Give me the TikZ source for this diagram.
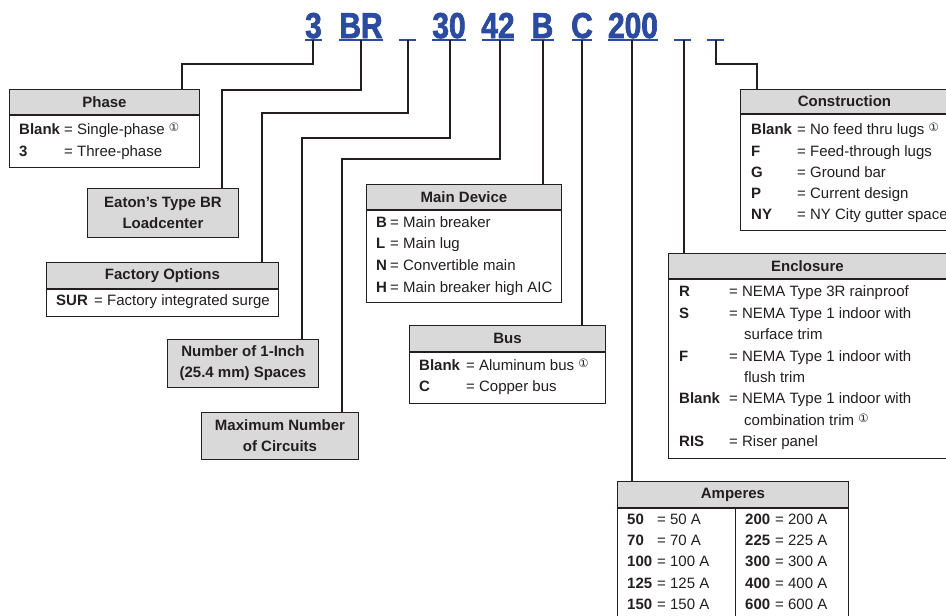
\documentclass[tikz,border=0pt]{standalone}
\usepackage{fontspec}
\setmainfont{Liberation Sans}
\newfontfamily\codefont[FakeStretch=0.83,FakeBold=2]{Liberation Sans Bold}
\newfontfamily\circfont{DejaVu Sans}
\newcommand\myone{{\circfont\fontsize{11.5}{11.5}\selectfont\raisebox{2.5pt}{①}}}
\definecolor{codeblue}{HTML}{2A4B9E}
\definecolor{hdrgray}{HTML}{D9D9DA}
\definecolor{ink}{HTML}{231F20}
\tikzset{
  codetxt/.style={anchor=base, inner sep=0pt, text=codeblue, font=\codefont\fontsize{36}{36}\selectfont},
  uline/.style={draw=codeblue, line width=1.6pt},
  conn/.style={draw=ink, line width=1.8pt},
  hdr/.style={draw=ink, line width=0.9pt, fill=hdrgray, anchor=north west, inner sep=0pt, text=ink, font=\bfseries\fontsize{15}{21}\selectfont, align=center},
  bodybox/.style={draw=ink, line width=0.9pt, fill=white, anchor=north west, inner sep=0pt},
  key/.style={anchor=base west, inner sep=0pt, text=ink, font=\bfseries\fontsize{15}{18}\selectfont},
  val/.style={anchor=base west, inner sep=0pt, text=ink, font=\fontsize{15}{18}\selectfont},
}
\begin{document}
\begin{tikzpicture}[x=1pt, y=-1pt]
\useasboundingbox (0,0) rectangle (946,616);
% ---------- code line ----------
\node[codetxt] (c1) at (313.5,38) {3};
\node[codetxt] (c2) at (361,38) {BR};
\node[codetxt] (c4) at (449,38) {30};
\node[codetxt] (c5) at (498,38) {42};
\node[codetxt] (c6) at (542.5,38) {B};
\node[codetxt] (c7) at (582,38) {C};
\node[codetxt] (c8) at (633,38) {200};
\coordinate (u1) at (313,40);
\coordinate (u2) at (361,40);
\coordinate (u3) at (408,40);
\coordinate (u4) at (450,40);
\coordinate (u5) at (500,40);
\coordinate (u6) at (543,40);
\coordinate (u7) at (582,40);
\coordinate (u8) at (632,40);
\coordinate (u9) at (684,40);
\coordinate (u10) at (716,40);
\draw[uline] (305,40) -- (322,40);
\draw[uline] (339,40) -- (383,40);
\draw[uline] (399,40) -- (416,40);
\draw[uline] (432,40) -- (466,40);
\draw[uline] (482,40) -- (514,40);
\draw[uline] (531,40) -- (554,40);
\draw[uline] (572,40) -- (592,40);
\draw[uline] (608,40) -- (658,40);
\draw[uline] (674,40) -- (691,40);
\draw[uline] (707,40) -- (724,40);

% ---------- Phase ----------
\node[hdr, minimum width=190, minimum height=25] (phH) at (9,89) {Phase};
\node[bodybox, minimum width=190, minimum height=52] (phB) at (phH.south west) {};
\node[key] (phK1) at (19,134) {Blank};
\node[val] (phV1) at (64,134) {= Single-phase \myone};
\node[key] (phK2) at (19,156) {3};
\node[val] (phV2) at (64,156) {= Three-phase};

% ---------- Eaton ----------
\node[hdr, minimum width=151, minimum height=49] (eat) at (87,188) {Eaton’s Type BR\\Loadcenter};

% ---------- Factory options ----------
\node[hdr, minimum width=232, minimum height=26] (foH) at (46,262) {Factory Options};
\node[bodybox, minimum width=232, minimum height=27] (foB) at (foH.south west) {};
\node[key] (foK) at (56,305) {SUR};
\node[val] (foV) at (94,305) {= Factory integrated surge};

% ---------- Number of spaces ----------
\node[hdr, minimum width=151, minimum height=48] (nsp) at (167,339) {Number of 1-Inch\\(25.4 mm) Spaces};

% ---------- Maximum circuits ----------
\node[hdr, minimum width=157, minimum height=47] (mxc) at (201,412) {Maximum Number\\of Circuits};

% ---------- Main device ----------
\node[hdr, minimum width=195, minimum height=25] (mdH) at (366,184) {Main Device};
\node[bodybox, minimum width=195, minimum height=92] (mdB) at (mdH.south west) {};
\node[key] (mdK1) at (376,227) {B};
\node[val] (mdV1) at (390,227) {= Main breaker};
\node[key] (mdK2) at (376,248) {L};
\node[val] (mdV2) at (390,248) {= Main lug};
\node[key] (mdK3) at (376,270) {N};
\node[val] (mdV3) at (390,270) {= Convertible main};
\node[key] (mdK4) at (376,292) {H};
\node[val] (mdV4) at (390,292) {= Main breaker high AIC};

% ---------- Bus ----------
\node[hdr, minimum width=196, minimum height=26] (buH) at (409,325) {Bus};
\node[bodybox, minimum width=196, minimum height=51] (buB) at (buH.south west) {};
\node[key] (buK1) at (419,370) {Blank};
\node[val] (buV1) at (466,370) {= Aluminum bus \myone};
\node[key] (buK2) at (419,391) {C};
\node[val] (buV2) at (466,391) {= Copper bus};

% ---------- Construction ----------
\node[hdr, minimum width=220, minimum height=24] (coH) at (740,89) {\hspace*{-12pt}Construction};
\node[bodybox, minimum width=220, minimum height=116] (coB) at (coH.south west) {};
\node[key] (coK1) at (751,134) {Blank};
\node[val] (coV1) at (797,134) {= No feed thru lugs \myone};
\node[key] (coK2) at (751,156) {F};
\node[val] (coV2) at (797,156) {= Feed-through lugs};
\node[key] (coK3) at (751,177) {G};
\node[val] (coV3) at (797,177) {= Ground bar};
\node[key] (coK4) at (751,198) {P};
\node[val] (coV4) at (797,198) {= Current design};
\node[key] (coK5) at (751,219) {NY};
\node[val] (coV5) at (797,219) {= NY City gutter space};

% ---------- Enclosure ----------
\node[hdr, minimum width=290, minimum height=25] (enH) at (668,253) {\hspace*{-12pt}Enclosure};
\node[bodybox, minimum width=290, minimum height=179] (enB) at (enH.south west) {};
\node[key] (enK1) at (679,296) {R};
\node[val] (enV1) at (729,296) {= NEMA Type 3R rainproof};
\node[key] (enK2) at (679,318) {S};
\node[val] (enV2) at (729,318) {= NEMA Type 1 indoor with};
\node[val] (enV2b) at (744,339) {surface trim};
\node[key] (enK3) at (679,361) {F};
\node[val] (enV3) at (729,361) {= NEMA Type 1 indoor with};
\node[val] (enV3b) at (744,382) {flush trim};
\node[key] (enK4) at (679,403) {Blank};
\node[val] (enV4) at (729,403) {= NEMA Type 1 indoor with};
\node[val] (enV4b) at (744,425) {combination trim \myone};
\node[key] (enK5) at (679,446) {RIS};
\node[val] (enV5) at (729,446) {= Riser panel};

% ---------- Amperes ----------
\node[hdr, minimum width=231, minimum height=26] (amH) at (617,481) {Amperes};
\node[bodybox, minimum width=231, minimum height=130] (amB) at (amH.south west) {};
\draw[draw=ink, line width=0.9pt] ([xshift=118pt]amB.north west) -- ([xshift=118pt]amB.south west);
\node[key] (amK1) at (627,524) {50};
\node[val] (amV1) at (657,524) {= 50 A};
\node[key] (amK2) at (627,545) {70};
\node[val] (amV2) at (657,545) {= 70 A};
\node[key] (amK3) at (627,566) {100};
\node[val] (amV3) at (657,566) {= 100 A};
\node[key] (amK4) at (627,588) {125};
\node[val] (amV4) at (657,588) {= 125 A};
\node[key] (amK5) at (627,609) {150};
\node[val] (amV5) at (657,609) {= 150 A};
\node[key] (amK6) at (745,524) {200};
\node[val] (amV6) at (775,524) {= 200 A};
\node[key] (amK7) at (745,545) {225};
\node[val] (amV7) at (775,545) {= 225 A};
\node[key] (amK8) at (745,566) {300};
\node[val] (amV8) at (775,566) {= 300 A};
\node[key] (amK9) at (745,588) {400};
\node[val] (amV9) at (775,588) {= 400 A};
\node[key] (amK10) at (745,609) {600};
\node[val] (amV10) at (775,609) {= 600 A};

% ---------- connectors ----------
\draw[conn] (u1) -- ++(0,24) -| ([xshift=173pt]phH.north west);
\draw[conn] (u2) -- ++(0,50) -| ([xshift=135pt]eat.north west);
\draw[conn] (u3) -- ++(0,73) -| ([xshift=216pt]foH.north west);
\draw[conn] (u4) -- ++(0,98) -| ([xshift=135pt]nsp.north west);
\draw[conn] (u5) -- ++(0,119) -| ([xshift=141pt]mxc.north west);
\draw[conn] (u6) -- ([xshift=177pt]mdH.north west);
\draw[conn] (u7) -- ([xshift=173pt]buH.north west);
\draw[conn] (u8) -- ([xshift=15pt]amH.north west);
\draw[conn] (u9) -- ([xshift=16pt]enH.north west);
\draw[conn] (u10) -- ++(0,24) -| ([xshift=17pt]coH.north west);
\end{tikzpicture}
\end{document}
